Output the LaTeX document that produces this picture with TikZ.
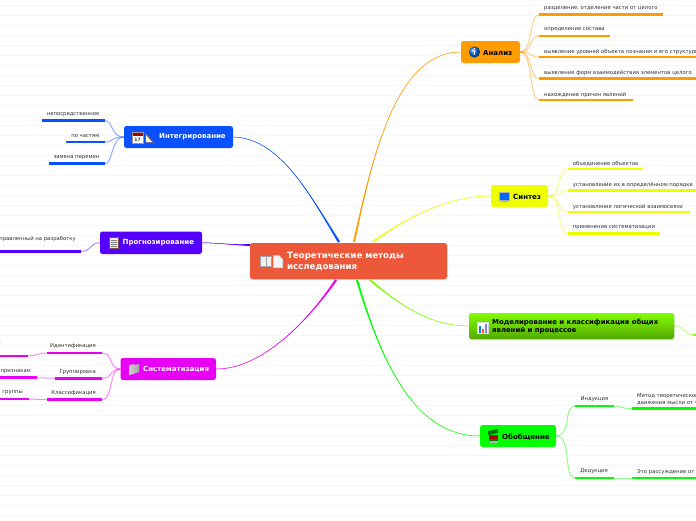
\documentclass[tikz,border=0pt]{standalone}
\usepackage{fontspec}
\setmainfont{DejaVu Sans}
\usetikzlibrary{shadows}
\definecolor{cCen}{HTML}{EE583A}
\definecolor{cAna}{HTML}{FF9C00}
\definecolor{cSyn}{HTML}{EEFF00}
\definecolor{cMod}{HTML}{80FF00}
\definecolor{cModB}{HTML}{55A800}
\definecolor{cGen}{HTML}{00FF00}
\definecolor{cInt}{HTML}{0A50FF}
\definecolor{cPro}{HTML}{5500FF}
\definecolor{cSys}{HTML}{E800F5}
\definecolor{cRule}{HTML}{F7F7F7}
\definecolor{cTxt}{HTML}{2E2E2E}
\tikzset{
  x=1pt,y=-1pt,
  boxn/.style={rounded corners=2.5pt,inner sep=0pt,draw=none},
  btw/.style={font=\bfseries\fontsize{7}{8}\selectfont,text=white,anchor=west,inner sep=0pt},
  btb/.style={font=\bfseries\fontsize{7}{8}\selectfont,text=black,anchor=west,inner sep=0pt},
  lft/.style={font=\fontsize{5.3}{6.4}\selectfont,text=cTxt,anchor=west,inner sep=0pt,align=left},
  lfr/.style={font=\fontsize{5.3}{6.4}\selectfont,text=cTxt,anchor=east,inner sep=0pt},
  under/.style={line width=2.5pt},
  sub/.style={line width=1pt,opacity=0.45},
}
\newcommand{\boxat}[7]{% name x1 y1 x2 y2 colour extra
  \node[boxn,fill=#6,minimum width=#4pt-#2pt,minimum height=#5pt-#3pt,#7] (#1) at ({(#2+#4)/2},{(#3+#5)/2}) {};}
% tapered connector: colour, start coordinate, half-width offset, control 1, control 2, end
\newcommand{\taper}[6]{%
  \fill[#1] ($(#2)+(#3)$) .. controls (#4) and (#5) .. (#6) .. controls (#5) and (#4) .. ($(#2)-(#3)$) -- cycle;
  \draw[#1,line width=0.5pt] (#2) .. controls (#4) and (#5) .. (#6);}
\usetikzlibrary{calc}
\begin{document}
\begin{tikzpicture}
\clip (0,0) rectangle (696,520);
\fill[white] (0,0) rectangle (696,520);
\foreach \k in {0,...,51}{\draw[cRule,line width=0.6pt] (0,5+10*\k) -- (696,5+10*\k);}

% boxes
\boxat{cen}{250}{243}{447}{279}{cCen}{drop shadow={opacity=0.3,shadow xshift=0.5pt,shadow yshift=-1pt}}
\boxat{ana}{461}{41}{520}{63}{cAna}{}
\boxat{syn}{491}{185}{548}{207}{cSyn}{}
\boxat{mod}{469}{313}{674}{339}{cMod}{top color=cMod,bottom color=cModB,drop shadow={opacity=0.3,shadow xshift=0.5pt,shadow yshift=-1pt}}
\boxat{gen}{480}{425}{556}{447}{cGen}{}
\boxat{int}{124}{126}{233}{148}{cInt}{}
\boxat{pro}{100}{231.5}{202}{254}{cPro}{}
\boxat{sys}{120.5}{358}{216}{380}{cSys}{}

% box texts
\node[font=\bfseries\fontsize{8.6}{10.4}\selectfont,text=white,anchor=west,inner sep=0pt,align=left] (cent) at (287,261.3) {Теоретические методы\\исследования};
\node[btb] (anat) at (483,52.5) {Анализ};
\node[btb] (synt) at (513,196.5) {Синтез};
\node[btb,align=left,font=\bfseries\fontsize{6.9}{8.2}\selectfont] (modt) at (492,326.4) {Моделирование и классификация общих\\явлений и процессов};
\node[btb] (gent) at (502,436.8) {Обобщение};
\node[btw] (intt) at (159,136.8) {Интегрирование};
\node[btw] (prot) at (122.5,242.8) {Прогнозирование};
\node[btw] (syst) at (143,369.3) {Систематизация};

% main connectors
\coordinate (sa) at (354,242);
\coordinate (ss) at (373,242);
\coordinate (sm) at (370,280);
\coordinate (sg) at (357,280);
\coordinate (si) at (339,242);
\coordinate (sp) at (250,245);
\coordinate (sy) at (336,280);
\taper{cAna}{sa}{1,0.2}{372,160}{395,52}{ana.west}
\taper{cSyn}{ss}{0.8,0.6}{410,215}{450,196}{syn.west}
\taper{cMod}{sm}{0.8,-0.7}{400,305}{430,326}{mod.west}
\taper{cGen}{sg}{1,-0.3}{385,375}{420,436}{gen.west}
\taper{cInt}{si}{1,-0.6}{310,195}{280,138}{int.east}
\taper{cPro}{sp}{0,1}{232,245}{220,243}{pro.east}
\taper{cSys}{sy}{1,0.6}{305,325}{260,369}{sys.east}

% leaf text and underlines: Analysis
\foreach \n/\a/\b/\y in {a1/539/663/14.7,a2/539/610/36,a3/539/700/57,a4/539/700/78.7,a5/539/632.5/100}{
  \coordinate (\n) at (\a,\y);
  \draw[under,cAna] (\n) -- (\b,\y);
  \draw[sub,cAna] (ana.east) .. controls (533,52) and (529,\y) .. (\n);
}
\node[lft] (a1t) at (544,8.8) {разделение, отделение части от целого};
\node[lft] (a2t) at (544,29.8) {определение состава};
\node[lft] (a3t) at (544,51.6) {выявление уровней объекта познания и его структуры};
\node[lft] (a4t) at (544,72.9) {выявление форм взаимодействия элементов целого};
\node[lft] (a5t) at (544,94.6) {нахождение причин явлений};

% Synthesis
\foreach \n/\a/\b/\y in {s1/567.5/643/169,s2/567.5/700/190.7,s3/567.5/690/212,s4/567.5/660/233.7}{
  \coordinate (\n) at (\a,\y);
  \draw[under,cSyn] (\n) -- (\b,\y);
  \draw[sub,cSyn] (syn.east) .. controls (562,196) and (557,\y) .. (\n);
}
\node[lft] (s1t) at (572.7,163.6) {объединение объектов};
\node[lft] (s2t) at (572.7,184.9) {установление их в определённом порядке};
\node[lft] (s3t) at (572.7,206.6) {установление логической взаимосвязи};
\node[lft] (s4t) at (572.7,227.6) {применение систематизации};

% Modelling
\coordinate (m1) at (693,335);
\draw[under,cMod] (m1) -- (700,335);
\draw[sub,cMod] (mod.east) .. controls (686,326) and (684,335) .. (m1);

% Generalisation
\foreach \n/\a/\b/\y in {g1/575/613.7/406,g2/575/613.7/478}{
  \coordinate (\n) at (\a,\y);
  \coordinate (\n e) at (\b,\y);
  \draw[under,cGen] (\n) -- (\n e);
  \draw[sub,cGen] (gen.east) .. controls (572,436) and (563,\y) .. (\n);
}
\node[lft] (g1t) at (580.5,399.6) {Индукция};
\node[lft] (g2t) at (580,471.6) {Дедукция};
\coordinate (g3) at (632,408.7);
\coordinate (g4) at (632,478);
\draw[under,cGen] (g3) -- (700,408.7);
\draw[under,cGen] (g4) -- (700,478);
\draw[sub,cGen] (g1e) .. controls (622,406) and (622,408.7) .. (g3);
\draw[sub,cGen] (g2e) -- (g4);
\node[lft] (g3t) at (637,399.6) {Метод теоретического\\движения мысли от частного};
\node[lft] (g4t) at (637,471.6) {Это рассуждение от общего};

% Integration
\foreach \n/\a/\y in {i1/42/120.7,i2/66/142,i3/48.7/163.7}{
  \coordinate (\n) at (105,\y);
  \draw[under,cInt] (\a,\y) -- (\n);
  \draw[sub,cInt] (int.west) .. controls (111,137) and (113,\y) .. (\n);
}
\node[lfr] (i1t) at (99.5,114.8) {непосредственное};
\node[lfr] (i2t) at (99.5,135.8) {по частям};
\node[lfr] (i3t) at (99.5,157.5) {замена перемен};

% Forecast
\coordinate (p1) at (81,251.3);
\draw[under,cPro] (-5,251.3) -- (p1);
\draw[sub,cPro] (pro.west) .. controls (90,242.5) and (92,251.3) .. (p1);
\node[lfr] (p1t) at (76,238.8) {направленный на разработку};

% Systematisation
\foreach \n/\a/\y in {y1/46.5/353,y2/55/378.3,y3/46.5/399.7}{
  \coordinate (\n) at (102,\y);
  \coordinate (\n w) at (\a,\y);
  \draw[under,cSys] (\n w) -- (\n);
  \draw[sub,cSys] (sys.west) .. controls (109,369) and (113,\y) .. (\n);
}
\node[lfr] (y1t) at (96,346.6) {Идентификация};
\node[lfr] (y2t) at (96,371.9) {Группировка};
\node[lfr] (y3t) at (96,393.6) {Классификация};
\coordinate (z1) at (28,356);
\coordinate (z2) at (36.7,377.7);
\coordinate (z3) at (28.7,399);
\draw[under,cSys] (-5,356) -- (z1);
\draw[under,cSys] (-5,377.7) -- (z2);
\draw[under,cSys] (-5,399) -- (z3);
\draw[sub,cSys] (y1w) .. controls (38,353) and (36,356) .. (z1);
\draw[sub,cSys] (y2w) -- (z2);
\draw[sub,cSys] (y3w) -- (z3);
\node[lfr] (z1t) at (1,343) {:};
\node[lfr] (z2t) at (31,371.6) {признакам};
\node[lfr] (z3t) at (23,392.6) {группы};

% icons
% central: book and page
\fill[gray!70] (260,256) rectangle (272,266.5);
\fill[white!88!gray] (261,257) rectangle (265.5,265.5);
\fill[white!88!gray] (266.5,257) rectangle (271,265.5);
\fill[gray!35] (273,255) -- (279,255) -- (283,259) -- (283,268) -- (273,268) -- cycle;
\fill[white!92!gray] (274,256) -- (278.5,256) -- (282,259.5) -- (282,267) -- (274,267) -- cycle;
% info
\shade[ball color=blue!55!cyan] (474.5,52) circle (5.6);
\fill[white] (473.9,49.8) rectangle (475.1,55);
\fill[white] (474.5,48.5) circle (0.7);
% monitor
\fill[gray!60] (499,191.5) rectangle (510,201);
\fill[blue!60!cyan] (500,192.5) rectangle (509,199.5);
\fill[gray!70] (501,201) rectangle (508,202);
% chart
\fill[gray!30] (477,322) rectangle (489,334);
\fill[white] (478,323) rectangle (488,333);
\fill[cyan!70!blue] (479,326) rectangle (481,333);
\fill[red!70] (482,329) rectangle (484,333);
\fill[blue!50] (485,324) rectangle (487,333);
% books
\fill[green!45!black] (488,431) -- (498,429) -- (498,433) -- (488,435) -- cycle;
\fill[red!70!black] (489,435) rectangle (498,438.5);
\fill[green!50!black] (489,438.5) rectangle (498,441);
\fill[gray!60] (490,441) rectangle (498,442.5);
% calendar and set square
\fill[white] (132,132) rectangle (143,143);
\fill[red!65!black] (132,132) rectangle (143,135.5);
\node[inner sep=0pt,font=\bfseries\fontsize{4.5}{5}\selectfont,text=black!80] (cal) at (137.5,139.5) {17};
\draw[gray!80,line width=0.3pt] (132,132) rectangle (143,143);
\fill[gray!70!blue] (145,132) -- (155,143) -- (145,143) -- cycle;
\fill[yellow!25] (146,135) -- (152,142) -- (146,142) -- cycle;
% clipboard
\fill[red!30!black!70] (109,237) rectangle (119,249);
\fill[white!85!gray] (110,238) rectangle (118,248);
\draw[gray,line width=0.3pt] (111,240) -- (117,240) (111,242) -- (117,242) (111,244) -- (117,244) (111,246) -- (117,246);
% folder
\fill[gray!55] (129,365) -- (134,364) -- (134,365) -- (139,364) -- (139,372) -- (129,375) -- cycle;
\shade[left color=gray!40,right color=gray!70] (130,367) -- (139,365) -- (138.5,372) -- (129.5,375) -- cycle;
\end{tikzpicture}
\end{document}
